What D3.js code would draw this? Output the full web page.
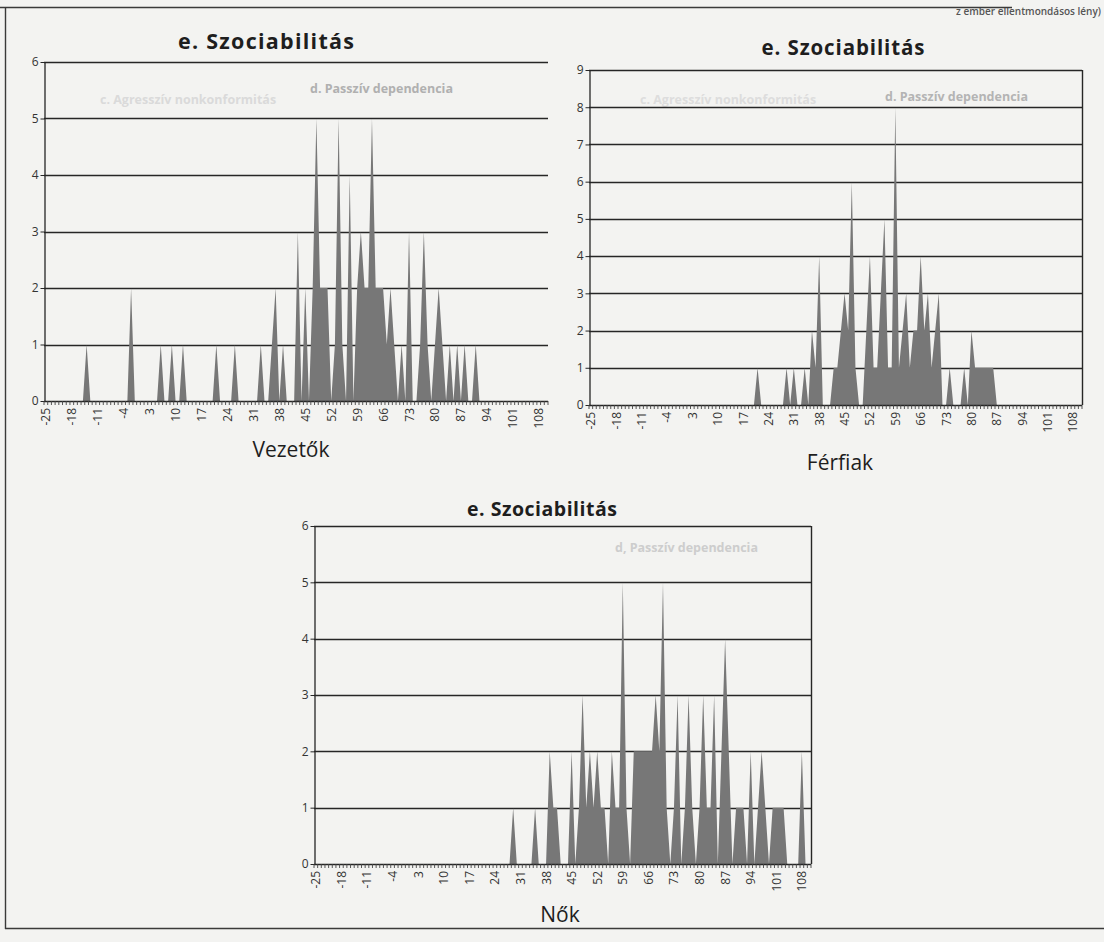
<!DOCTYPE html>
<html>
<head>
<meta charset="utf-8">
<script src="https://cdn.jsdelivr.net/npm/d3@7"></script>
<style>
  html, body { margin: 0; padding: 0; background: #f3f3f1; }
  svg { display: block; }
</style>
</head>
<body>
<svg id="page" width="1104" height="942"></svg>
<script>
// Score categories on the x axis (one point per integer score)
const categories = d3.range(-25, 111);
const xTickLabels = [-25, -18, -11, -4, 3, 10, 17, 24, 31, 38, 45, 52, 59, 66, 73, 80, 87, 94, 101, 108];

// Frequencies per score, -25 .. 110, ten scores per row
const vezetokValues = [
  0,0,0,0,0,0,0,0,0,0,   // -25 .. -16
  0,1,0,0,0,0,0,0,0,0,   // -15 .. -6
  0,0,0,2,0,0,0,0,0,0,   //  -5 .. 4
  0,1,0,0,1,0,0,1,0,0,   //   5 .. 14
  0,0,0,0,0,0,1,0,0,0,   //  15 .. 24
  0,1,0,0,0,0,0,0,1,0,   //  25 .. 34
  0,1,2,0,1,0,0,0,3,0,   //  35 .. 44
  2,0,2,5,2,2,2,0,1,5,   //  45 .. 54
  1,0,4,0,2,3,2,2,5,2,   //  55 .. 64
  2,2,1,2,1,0,1,0,3,0,   //  65 .. 74
  0,1,3,1,0,1,2,1,0,1,   //  75 .. 84
  0,1,0,1,0,0,1,0,0,0,   //  85 .. 94
  0,0,0,0,0,0,0,0,0,0,   //  95 .. 104
  0,0,0,0,0,0            // 105 .. 110
];
const ferfiakValues = [
  0,0,0,0,0,0,0,0,0,0,
  0,0,0,0,0,0,0,0,0,0,
  0,0,0,0,0,0,0,0,0,0,
  0,0,0,0,0,0,0,0,0,0,
  0,0,0,0,0,0,1,0,0,0,
  0,0,0,0,1,0,1,0,0,1,
  0,2,1,4,0,0,0,1,1,2,
  3,2,6,1,0,0,2,4,1,1,
  3,5,1,1,8,1,2,3,1,2,
  2,4,2,3,1,2,3,0,0,1,
  0,0,0,1,0,2,1,1,1,1,
  1,1,0,0,0,0,0,0,0,0,
  0,0,0,0,0,0,0,0,0,0,
  0,0,0,0,0,0
];
const nokValues = [
  0,0,0,0,0,0,0,0,0,0,
  0,0,0,0,0,0,0,0,0,0,
  0,0,0,0,0,0,0,0,0,0,
  0,0,0,0,0,0,0,0,0,0,
  0,0,0,0,0,0,0,0,0,0,
  0,0,0,0,1,0,0,0,0,0,
  1,0,0,0,2,1,1,0,0,0,
  2,0,1,3,1,2,1,2,1,1,
  0,2,1,1,5,1,0,2,2,2,
  2,2,2,3,2,5,1,0,1,3,
  0,1,3,1,0,1,3,1,1,3,
  0,2,4,2,0,1,1,1,0,2,
  0,1,2,1,0,1,1,1,1,0,
  0,0,0,2,0,0
];

const chartTitle = "e.  Szociabilitás";
const groupNames = ["Vezetők", "Férfiak", "Nők"];
const yMaxima = [6, 9, 6];

// Panel layout on the page
const panels = [
  { values: vezetokValues, name: groupNames[0], yMax: yMaxima[0],
    left: 44, right: 548, top: 62, bottom: 401, rightBorder: false,
    titleX: 266, titleY: 49, titleSize: 21.5, titleWidth: 176, nameX: 291, nameY: 457 },
  { values: ferfiakValues, name: groupNames[1], yMax: yMaxima[1],
    left: 589, right: 1082, top: 70, bottom: 405, rightBorder: true,
    titleX: 843, titleY: 55, titleSize: 20.5, titleWidth: 163, nameX: 840, nameY: 470 },
  { values: nokValues, name: groupNames[2], yMax: yMaxima[2],
    left: 314, right: 811, top: 526, bottom: 864, rightBorder: true,
    titleX: 542, titleY: 516, titleSize: 19.5, titleWidth: 150, nameX: 560, nameY: 922 }
];

const svg = d3.select("#page");
const ink = "#262626";
const fillGrey = "#777777";
const font = "'Open Sans', sans-serif";

// paper
svg.append("rect").attr("width", 1104).attr("height", 942).attr("fill", "#f3f3f1");

// faint print showing through from the neighbouring page
const ghost = svg.append("g").attr("font-family", font).attr("font-weight", 700).attr("font-size", 12.5);
ghost.append("text").attr("x", 310).attr("y", 93).attr("fill", "#b0b0b0").text("d. Passzív dependencia");
ghost.append("text").attr("x", 100).attr("y", 104).attr("fill", "#dadada").text("c. Agresszív nonkonformitás");
ghost.append("text").attr("x", 885).attr("y", 101).attr("fill", "#b4b4b4").text("d. Passzív dependencia");
ghost.append("text").attr("x", 640).attr("y", 104).attr("fill", "#dddddd").text("c. Agresszív nonkonformitás");
ghost.append("text").attr("x", 615).attr("y", 552).attr("fill", "#cdcdcd").text("d, Passzív dependencia");

// page header fragment and frame
svg.append("text").attr("x", 1101).attr("y", 15).attr("text-anchor", "end").attr("font-family", font)
  .attr("font-size", 10).attr("font-weight", 600).attr("fill", "#555").text("z ember ellentmondásos lény)");
const frame = svg.append("g").attr("stroke", "#3a3a3a").attr("stroke-width", 1.4).attr("fill", "none");
frame.append("line").attr("x1", 0).attr("x2", 1012).attr("y1", 7.5).attr("y2", 7.5);
frame.append("line").attr("x1", 5.5).attr("x2", 5.5).attr("y1", 7).attr("y2", 929);
frame.append("line").attr("x1", 5).attr("x2", 1104).attr("y1", 928.5).attr("y2", 928.5);

panels.forEach(p => {
  const g = svg.append("g");
  const x = d3.scalePoint().domain(categories).range([p.left, p.right]).padding(0.5);
  const y = d3.scaleLinear().domain([0, p.yMax]).range([p.bottom, p.top]);
  const step = x.step();

  // horizontal gridlines
  g.append("g").selectAll("line")
    .data(d3.range(1, p.yMax + 1))
    .join("line")
    .attr("x1", p.left).attr("x2", p.right)
    .attr("y1", d => Math.round(y(d)) + 0.5).attr("y2", d => Math.round(y(d)) + 0.5)
    .attr("stroke", ink).attr("stroke-width", 1.5);

  if (p.rightBorder) {
    g.append("line").attr("x1", p.right + 0.5).attr("x2", p.right + 0.5)
      .attr("y1", y(p.yMax)).attr("y2", p.bottom)
      .attr("stroke", ink).attr("stroke-width", 1.4);
  }

  // frequency area
  const area = d3.area()
    .x((d, i) => x(categories[i]))
    .y0(y(0))
    .y1(d => y(d));
  g.append("path").datum(p.values).attr("d", area).attr("fill", fillGrey);

  // y axis
  const yAxis = d3.axisLeft(y).ticks(p.yMax).tickFormat(d3.format("d")).tickSize(4).tickSizeOuter(0);
  const ya = g.append("g").attr("transform", `translate(${p.left + 0.5},0)`).call(yAxis);
  ya.select(".domain").attr("stroke", ink).attr("stroke-width", 1.3);
  ya.selectAll(".tick line").attr("stroke", ink);
  ya.selectAll(".tick text").attr("font-family", font)
    .attr("font-size", 12).attr("fill", "#333").attr("x", -6);

  // x axis: a baseline, one small tick per category boundary, labels every 7th score
  g.append("line").attr("x1", p.left).attr("x2", p.right)
    .attr("y1", p.bottom + 0.5).attr("y2", p.bottom + 0.5)
    .attr("stroke", ink).attr("stroke-width", 1.3);
  const bounds = categories.map(c => x(c) - step / 2).concat([x(categories[categories.length - 1]) + step / 2]);
  g.append("g").selectAll("line").data(bounds).join("line")
    .attr("x1", d => d).attr("x2", d => d)
    .attr("y1", p.bottom).attr("y2", p.bottom + 4)
    .attr("stroke", "#444").attr("stroke-width", 0.9);
  g.append("g").selectAll("text").data(xTickLabels).join("text")
    .attr("transform", d => `translate(${x(d) + 4.5},${p.bottom + 7}) rotate(-90)`)
    .attr("text-anchor", "end")
    .attr("font-family", font).attr("font-size", 12).attr("fill", "#333")
    .text(d => d);

  // title and group label
  g.append("text").attr("x", p.titleX).attr("y", p.titleY).attr("text-anchor", "middle")
    .attr("font-family", font).attr("font-weight", 700).attr("font-size", p.titleSize)
    .attr("textLength", p.titleWidth).attr("lengthAdjust", "spacing")
    .attr("fill", "#1e1e1e").text(chartTitle);
  g.append("text").attr("x", p.nameX).attr("y", p.nameY).attr("text-anchor", "middle")
    .attr("font-family", font).attr("font-size", 21)
    .attr("fill", "#1e1e1e").text(p.name);
});
</script>
</body>
</html>
